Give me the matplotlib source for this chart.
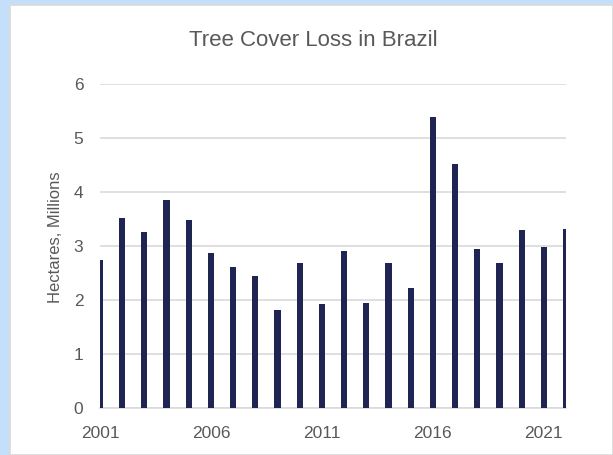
import matplotlib.pyplot as plt
from matplotlib.patches import Rectangle

# datos
years = list(range(2001, 2023))
loss = [2.74, 3.51, 3.25, 3.85, 3.48, 2.87, 2.62, 2.44, 1.81, 2.69, 1.92,
        2.91, 1.94, 2.69, 2.22, 5.38, 4.52, 2.94, 2.69, 3.29, 2.99, 3.31]
tick_years = [2001, 2006, 2011, 2016, 2021]
y_ticks = [0, 1, 2, 3, 4, 5, 6]

plt.rcParams['font.family'] = ['Liberation Sans', 'DejaVu Sans']
gray_txt = '#595959'

W, H = 613, 455
fig = plt.figure(figsize=(W / 100, H / 100), dpi=100)
fig.patch.set_facecolor('#c5dffa')

# marco blanco del area del grafico
fig.patches.append(Rectangle((10 / W, 0), 1 - 10 / W, 1 - 4.5 / H,
                             transform=fig.transFigure, facecolor='white',
                             edgecolor='#d9d9d9', linewidth=1.2, zorder=-5))

ax = fig.add_axes([100 / W, 1 - 408.3 / H, 466 / W, (408.3 - 83.7) / H])
ax.set_facecolor('none')
ax.bar(years, loss, width=0.28, color='#1f2452', zorder=3)

ax.set_xlim(2001, 2022)
ax.set_ylim(0, 6)
ax.set_xticks(tick_years)
ax.set_yticks(y_ticks)
ax.tick_params(axis='both', length=0, labelsize=12.5, labelcolor=gray_txt)
ax.tick_params(axis='y', pad=12)
ax.tick_params(axis='x', pad=13)
ax.grid(axis='y', color='#d9d9d9', linewidth=1.2, zorder=0)
for s in ['top', 'right', 'left']:
    ax.spines[s].set_visible(False)
ax.spines['bottom'].set_color('#d9d9d9')
ax.spines['bottom'].set_linewidth(1.2)

ax.set_ylabel('Hectares, Millions', fontsize=12, color=gray_txt)
ax.yaxis.set_label_coords(-0.08, 0.528)
fig.text(313 / W, 1 - 40 / H, 'Tree Cover Loss in Brazil', ha='center',
         va='center', fontsize=16, color=gray_txt)

fig.savefig('out.png', dpi=100, facecolor=fig.get_facecolor())
